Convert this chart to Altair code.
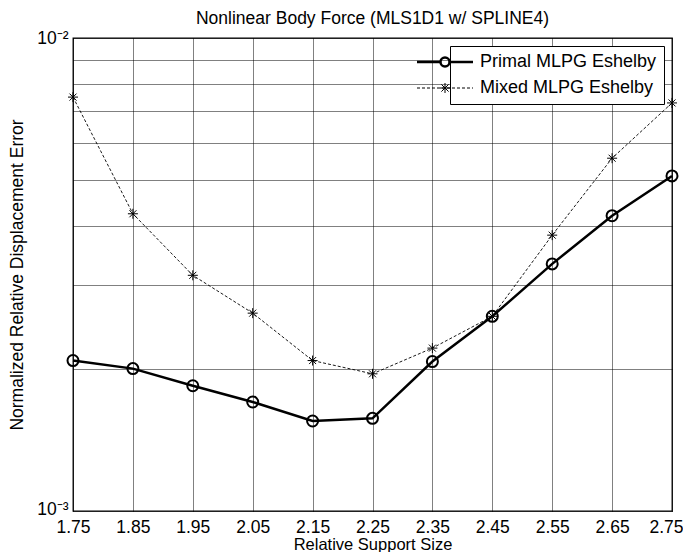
import altair as alt
import pandas as pd

# ---------------- data ----------------
support = [1.75, 1.85, 1.95, 2.05, 2.15, 2.25, 2.35, 2.45, 2.55, 2.65, 2.75]
primal = [2.08e-3, 2.00e-3, 1.84e-3, 1.70e-3, 1.55e-3, 1.57e-3,
          2.07e-3, 2.58e-3, 3.33e-3, 4.21e-3, 5.11e-3]
mixed = [7.50e-3, 4.25e-3, 3.15e-3, 2.62e-3, 2.08e-3, 1.95e-3,
         2.21e-3, 2.58e-3, 3.83e-3, 5.57e-3, 7.29e-3]
series_names = ["Primal MLPG Eshelby", "Mixed MLPG Eshelby"]
y_ticks = [0.001, 0.002, 0.003, 0.004, 0.005, 0.006, 0.007, 0.008, 0.009, 0.01]

df = pd.DataFrame({
    "support": support + support,
    "error": primal + mixed,
    "series": [series_names[0]] * len(support) + [series_names[1]] * len(support),
})

FONT = "Liberation Sans"
FS = 17.5

# ---------------- symbol paths (style only) ----------------
STAR = "M0,-1L0,1M-1,0L1,0M-0.7,-0.7L0.7,0.7M-0.7,0.7L0.7,-0.7"

# legend symbols: symbol size 196 -> 1 unit = 7 px; a 56 px line ending at +1
U = 7.0
left = 1 - 56 / U
cx = (left + 1) / 2
r = 4.5 / U
LEG_PRIMAL = (f"M{left:.3f},0L{cx - r:.3f},0M{cx + r:.3f},0L1,0"
              f"M{cx - r:.3f},0A{r:.3f},{r:.3f} 0 1,0 {cx + r:.3f},0"
              f"A{r:.3f},{r:.3f} 0 1,0 {cx - r:.3f},0")

segs = []
pos = left
period, dash = 5 / U, 3 / U
while pos < 1.0:
    end = min(pos + dash, 1.0)
    segs.append(f"M{pos:.3f},0L{end:.3f},0")
    pos += period
a = 5 / U
d = a * 0.72
LEG_MIXED = "".join(segs) + (f"M{cx:.3f},{-a:.3f}L{cx:.3f},{a:.3f}"
                             f"M{cx - d:.3f},{-d:.3f}L{cx + d:.3f},{d:.3f}"
                             f"M{cx - d:.3f},{d:.3f}L{cx + d:.3f},{-d:.3f}"
                             f"M{cx - a:.3f},0L{cx + a:.3f},0")

# ---------------- encodings ----------------
x_enc = alt.X(
    "support:Q",
    scale=alt.Scale(domain=[1.75, 2.75], nice=False, zero=False),
    axis=alt.Axis(values=support, format=".2f", title="Relative Support Size",
                  grid=True, ticks=False, tickSize=0, domain=False,
                  labelPadding=7, labelFlush=False,
                  labelOffset=alt.condition("datum.value >= 2.7", alt.value(-6), alt.value(0)),
                  titleBaseline="alphabetic", titleY=38.5, titleFontSize=16.5),
)
y_enc = alt.Y(
    "error:Q",
    scale=alt.Scale(type="log", domain=[0.001, 0.01], nice=False),
    axis=alt.Axis(values=y_ticks,
                  labelExpr="datum.value == 0.001 ? '10\u207b\u00b3' : (datum.value == 0.01 ? '10\u207b\u00b2' : '')",
                  labelOffset=alt.condition("datum.value < 0.0015", alt.value(-2), alt.value(0)),
                  title="Normalized Relative Displacement Error",
                  grid=True, ticks=False, tickSize=0, domain=False,
                  labelPadding=5, titlePadding=10, labelFlush=False),
)

base = alt.Chart(df).encode(x=x_enc, y=y_enc)

mixed_line = base.transform_filter(alt.datum.series == series_names[1]).mark_line(
    color="black", strokeWidth=0.9, strokeDash=[3, 2])
mixed_pts = base.transform_filter(alt.datum.series == series_names[1]).mark_point(
    shape=STAR, size=100, filled=False, color="black", strokeWidth=1, opacity=1)
primal_line = base.transform_filter(alt.datum.series == series_names[0]).mark_line(
    color="black", strokeWidth=2.5)
primal_pts = base.transform_filter(alt.datum.series == series_names[0]).mark_point(
    shape="circle", size=121, filled=False, color="black", strokeWidth=2, opacity=1)

leg = alt.Legend(title=None, orient="top-right", offset=8,
                 strokeColor="black", fillColor="white", padding=7,
                 labelFont=FONT, labelFontSize=18, labelColor="black",
                 labelLimit=400, symbolSize=196, labelOffset=5, rowPadding=7,
                 symbolStrokeColor="black")

legend_layer = base.transform_filter("datum.support > 100").mark_point(
    filled=False, color="black", size=196, opacity=1).encode(
    shape=alt.Shape("series:N", scale=alt.Scale(domain=series_names,
                                                range=[LEG_PRIMAL, LEG_MIXED]),
                    legend=leg),
    strokeWidth=alt.StrokeWidth("series:N", scale=alt.Scale(domain=series_names,
                                                            range=[2.5, 1.0]),
                                legend=leg),
)

chart = alt.layer(mixed_line, mixed_pts, primal_line, primal_pts, legend_layer).properties(
    width=599, height=473,
    background="white",
    title=alt.TitleParams("Nonlinear Body Force (MLS1D1 w/ SPLINE4)", font=FONT,
                          fontSize=17.5, fontWeight="normal", offset=2,
                          anchor="middle", color="black"),
    autosize=alt.AutoSizeParams(type="none"),
    padding={"left": 65, "top": 30, "right": 11, "bottom": 41},
).configure_view(
    stroke="black", strokeWidth=1.3
).configure_axis(
    labelFont=FONT, labelFontSize=FS, labelColor="black",
    titleFont=FONT, titleFontSize=FS, titleFontWeight="normal", titleColor="black",
    gridColor="black", gridOpacity=1, gridWidth=1, gridDash=[1, 1],
)

chart.save("out.html", embed_options={"renderer": "svg", "actions": False})
